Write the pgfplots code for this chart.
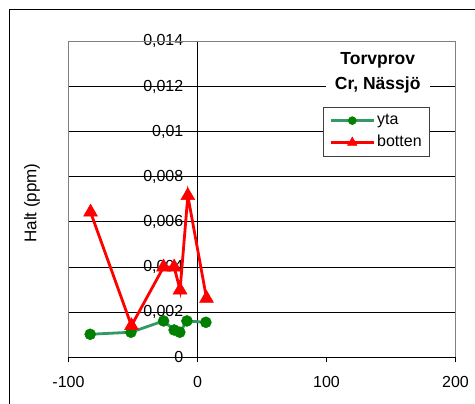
\documentclass[border=0pt]{standalone}
\usepackage{pgfplots}
\pgfplotsset{compat=1.18}
\usepackage{fontspec}
\setmainfont{Liberation Sans}

\definecolor{ytaline}{HTML}{339966}
\definecolor{ytamark}{HTML}{008000}
\definecolor{bottenred}{HTML}{FF0000}
\definecolor{boxgray}{HTML}{808080}

\pgfplotstableread{
x y
-83.2 0.00102
-51.6 0.00111
-26.3 0.00161
-18.1 0.00121
-13.7 0.00111
-8.2 0.00161
6.5 0.00155
}\ytadata

\pgfplotstableread{
x y
-82.9 0.00643
-51.2 0.00140
-26.3 0.00400
-18.1 0.00400
-13.5 0.00298
-7.5 0.00716
7.0 0.00261
}\bottendata

\begin{document}
\begin{tikzpicture}[x=1pt,y=1pt]
\useasboundingbox (0,0) rectangle (475,404);
% outer chart frame
\draw[black, line width=1pt] (9.5,-20) rectangle (500,394);
% y-axis title
\node[rotate=90, font=\fontsize{17}{20}\selectfont] at (32,201) {Halt (ppm)};

\begin{axis}[
  at={(68.5pt,46.7pt)}, anchor=south west,
  scale only axis, width=387pt, height=316pt,
  xmin=-100, xmax=200, ymin=0, ymax=0.014,
  axis x line*=bottom, axis y line*=center,
  hide obscured y ticks=false,
  axis line style={black, line width=0.8pt},
  xtick={-100,0,100,200},
  xticklabels={-100,0,100,200},
  ytick={0,0.002,0.004,0.006,0.008,0.01,0.012,0.014},
  yticklabels={{0},{0,002},{0,004},{0,006},{0,008},{0,01},{0,012},{0,014}},
  scaled y ticks=false,
  tick align=outside,
  major tick length=5pt,
  tick style={black, line width=0.8pt},
  ymajorgrids,
  grid style={black, line width=0.8pt},
  tick label style={font=\fontsize{16}{19}\selectfont},
  yticklabel style={anchor=east, inner sep=0pt, xshift=-9pt},
  xticklabel style={anchor=north, inner sep=0pt, yshift=-14pt},
  legend style={
    at={(0.6576,0.793)}, anchor=north west,
    draw=black!75, fill=white, line width=0.8pt,
    font=\fontsize{16}{19}\selectfont,
    inner xsep=6pt, inner ysep=2.5pt,
    row sep=0pt, column sep=0pt,
    nodes={inner xsep=2pt, inner ysep=3pt, text height=12pt, text depth=4pt, anchor=west},
  },
  legend cell align=left,
  legend image code/.code={
    \draw[#1, mark repeat=2, mark phase=2]
      plot coordinates {(0pt,0pt) (21.5pt,0pt) (43pt,0pt)};
  },
  clip=false,
]
% plot-area border
\draw[boxgray, line width=0.8pt] (rel axis cs:0,0) -- (rel axis cs:0,1)
  -- (rel axis cs:1,1) -- (rel axis cs:1,0);

\addplot[color=ytaline, line width=2.8pt, mark=*, mark size=5.5pt,
  mark options={fill=ytamark, draw=ytamark, line width=0.5pt},
  legend image post style={mark size=4pt}]
  table[x=x, y=y] {\ytadata};
\addlegendentry{yta}

\addplot[color=bottenred, line width=2.8pt, mark=triangle*, mark size=8pt,
  mark options={fill=bottenred, draw=bottenred, line width=0.5pt},
  legend image post style={mark size=5.5pt}]
  table[x=x, y=y] {\bottendata};
\addlegendentry{botten}

% chart title
\node[fill=white, align=center, inner xsep=9pt, inner ysep=2pt,
  font=\fontsize{17.5}{25}\selectfont\bfseries]
  at (rel axis cs:0.799,0.90) {Torvprov\\Cr, Nässjö};
\end{axis}
\end{tikzpicture}
\end{document}
